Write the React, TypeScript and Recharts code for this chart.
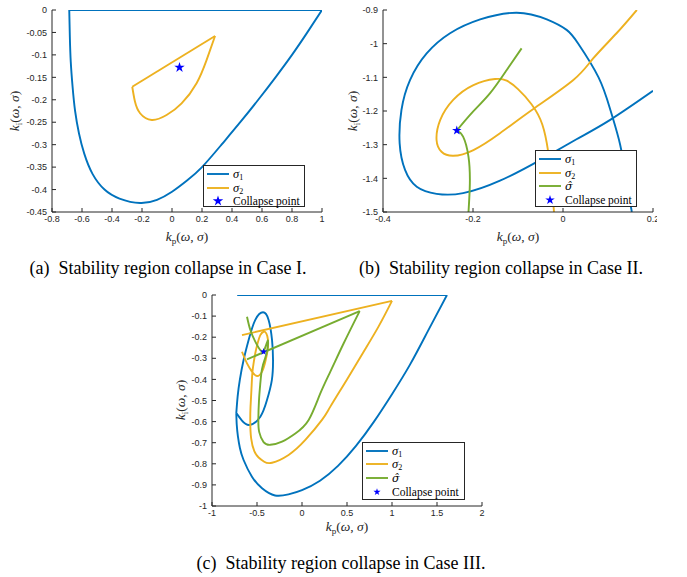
import React from "react";
import { ComposedChart, Line, Scatter, XAxis, YAxis, Symbols } from "recharts";

type Pt = { x: number; y: number };

// ---- Case I ----
const caseIXTicks = [-0.8, -0.6, -0.4, -0.2, 0, 0.2, 0.4, 0.6, 0.8, 1];
const caseIYTicks = [0, -0.05, -0.1, -0.15, -0.2, -0.25, -0.3, -0.35, -0.4, -0.45];
const caseISigma1Top: Pt[] = [
  { x: -0.685, y: 0 },
  { x: 1, y: 0 },
];
const caseISigma1Curve: Pt[] = [
  { x: -0.685, y: 0 }, { x: -0.681, y: -0.06 }, { x: -0.675, y: -0.115 }, { x: -0.663, y: -0.17 },
  { x: -0.646, y: -0.225 }, { x: -0.62, y: -0.275 }, { x: -0.585, y: -0.32 }, { x: -0.53, y: -0.365 },
  { x: -0.45, y: -0.4 }, { x: -0.35, y: -0.42 }, { x: -0.213, y: -0.43 }, { x: -0.1, y: -0.423 },
  { x: 0, y: -0.405 }, { x: 0.1, y: -0.38 }, { x: 0.2, y: -0.35 }, { x: 0.33, y: -0.3 },
  { x: 0.455, y: -0.25 }, { x: 0.575, y: -0.2 }, { x: 0.69, y: -0.15 }, { x: 0.8, y: -0.1 },
  { x: 0.9, y: -0.051 }, { x: 1, y: 0 },
];
const caseISigma2Edge: Pt[] = [
  { x: -0.265, y: -0.171 },
  { x: 0.287, y: -0.058 },
];
const caseISigma2Curve: Pt[] = [
  { x: 0.287, y: -0.058 }, { x: 0.231, y: -0.111 }, { x: 0.164, y: -0.163 }, { x: 0.064, y: -0.208 },
  { x: -0.036, y: -0.234 }, { x: -0.135, y: -0.245 }, { x: -0.213, y: -0.23 }, { x: -0.247, y: -0.204 },
  { x: -0.265, y: -0.171 },
];
const caseICollapse: Pt[] = [{ x: 0.05, y: -0.128 }];

// ---- Case II ----
const caseIIXTicks = [-0.4, -0.2, 0, 0.2];
const caseIIYTicks = [-0.9, -1, -1.1, -1.2, -1.3, -1.4, -1.5];
const caseIISigma1: Pt[] = [
  { x: 0.153, y: -1.5 }, { x: 0.14, y: -1.4 }, { x: 0.127, y: -1.3 }, { x: 0.106, y: -1.2 },
  { x: 0.079, y: -1.1 }, { x: 0.034, y: -1.0 }, { x: 0.008, y: -0.959 }, { x: -0.036, y: -0.928 },
  { x: -0.103, y: -0.908 }, { x: -0.184, y: -0.928 }, { x: -0.251, y: -0.969 }, { x: -0.303, y: -1.029 },
  { x: -0.34, y: -1.108 }, { x: -0.359, y: -1.197 }, { x: -0.363, y: -1.296 }, { x: -0.351, y: -1.375 },
  { x: -0.325, y: -1.425 }, { x: -0.281, y: -1.446 }, { x: -0.222, y: -1.444 }, { x: -0.14, y: -1.407 },
  { x: -0.05, y: -1.345 }, { x: 0.03, y: -1.284 }, { x: 0.104, y: -1.227 }, { x: 0.2, y: -1.14 },
];
const caseIISigma2: Pt[] = [
  { x: -0.02, y: -1.5 }, { x: -0.026, y: -1.4 }, { x: -0.033, y: -1.32 }, { x: -0.046, y: -1.24 },
  { x: -0.07, y: -1.18 }, { x: -0.1, y: -1.135 }, { x: -0.125, y: -1.11 }, { x: -0.151, y: -1.105 },
  { x: -0.199, y: -1.123 }, { x: -0.244, y: -1.167 }, { x: -0.273, y: -1.227 }, { x: -0.281, y: -1.286 },
  { x: -0.27, y: -1.321 }, { x: -0.244, y: -1.333 }, { x: -0.199, y: -1.316 }, { x: -0.14, y: -1.266 },
  { x: -0.066, y: -1.194 }, { x: 0.023, y: -1.108 }, { x: 0.067, y: -1.044 }, { x: 0.119, y: -0.969 },
  { x: 0.164, y: -0.9 },
];
const caseIIHatUpper: Pt[] = [
  { x: -0.092, y: -1.014 }, { x: -0.125, y: -1.078 }, { x: -0.162, y: -1.147 }, { x: -0.2, y: -1.202 },
  { x: -0.236, y: -1.258 },
];
const caseIIHatLower: Pt[] = [
  { x: -0.236, y: -1.258 }, { x: -0.222, y: -1.276 }, { x: -0.21, y: -1.336 }, { x: -0.207, y: -1.415 },
  { x: -0.21, y: -1.5 },
];
const caseIICollapse: Pt[] = [{ x: -0.236, y: -1.258 }];

// ---- Case III ----
const caseIIIXTicks = [-1, -0.5, 0, 0.5, 1, 1.5, 2];
const caseIIIYTicks = [0, -0.1, -0.2, -0.3, -0.4, -0.5, -0.6, -0.7, -0.8, -0.9, -1];
const caseIIISigma1Top: Pt[] = [
  { x: -0.72, y: 0 },
  { x: 1.611, y: 0 },
];
const caseIIISigma1Outer: Pt[] = [
  { x: 1.611, y: 0 }, { x: 1.4, y: -0.17 }, { x: 1.2, y: -0.33 }, { x: 1.0, y: -0.47 },
  { x: 0.8, y: -0.6 }, { x: 0.6, y: -0.715 }, { x: 0.4, y: -0.81 }, { x: 0.2, y: -0.88 },
  { x: 0, y: -0.925 }, { x: -0.15, y: -0.945 }, { x: -0.3, y: -0.95 }, { x: -0.444, y: -0.916 },
  { x: -0.556, y: -0.861 }, { x: -0.649, y: -0.782 }, { x: -0.69, y: -0.725 }, { x: -0.712, y: -0.67 },
  { x: -0.725, y: -0.615 }, { x: -0.73, y: -0.56 },
];
const caseIIISigma1Loop: Pt[] = [
  { x: -0.73, y: -0.56 }, { x: -0.715, y: -0.48 }, { x: -0.69, y: -0.4 }, { x: -0.649, y: -0.308 },
  { x: -0.593, y: -0.213 }, { x: -0.519, y: -0.118 }, { x: -0.433, y: -0.082 }, { x: -0.371, y: -0.118 },
  { x: -0.333, y: -0.213 }, { x: -0.322, y: -0.308 }, { x: -0.335, y: -0.403 }, { x: -0.389, y: -0.498 },
  { x: -0.463, y: -0.577 }, { x: -0.582, y: -0.616 }, { x: -0.667, y: -0.595 }, { x: -0.73, y: -0.56 },
];
const caseIIISigma2Curve: Pt[] = [
  { x: -0.667, y: -0.269 }, { x: -0.611, y: -0.324 }, { x: -0.556, y: -0.363 }, { x: -0.5, y: -0.384 },
  { x: -0.444, y: -0.363 }, { x: -0.408, y: -0.316 }, { x: -0.382, y: -0.261 }, { x: -0.378, y: -0.213 },
  { x: -0.397, y: -0.182 }, { x: -0.427, y: -0.174 }, { x: -0.463, y: -0.19 }, { x: -0.493, y: -0.229 },
  { x: -0.519, y: -0.276 }, { x: -0.538, y: -0.324 }, { x: -0.552, y: -0.371 }, { x: -0.562, y: -0.45 },
  { x: -0.572, y: -0.53 }, { x: -0.575, y: -0.6 }, { x: -0.565, y: -0.68 }, { x: -0.53, y: -0.74 },
  { x: -0.482, y: -0.77 }, { x: -0.42, y: -0.79 }, { x: -0.333, y: -0.795 }, { x: -0.149, y: -0.758 },
  { x: 0.037, y: -0.687 }, { x: 0.222, y: -0.592 }, { x: 0.315, y: -0.529 }, { x: 0.5, y: -0.4 },
  { x: 0.685, y: -0.269 }, { x: 0.85, y: -0.15 }, { x: 1.0, y: -0.028 },
];
const caseIIISigma2Edge: Pt[] = [
  { x: 1.0, y: -0.028 },
  { x: -0.667, y: -0.19 },
];
const caseIIIHatArc: Pt[] = [
  { x: -0.611, y: -0.103 }, { x: -0.574, y: -0.166 }, { x: -0.519, y: -0.221 }, { x: -0.463, y: -0.261 },
  { x: -0.427, y: -0.269 },
];
const caseIIIHatCurve: Pt[] = [
  { x: -0.427, y: -0.269 }, { x: -0.397, y: -0.235 }, { x: -0.378, y: -0.217 }, { x: -0.385, y: -0.26 },
  { x: -0.41, y: -0.3 }, { x: -0.444, y: -0.35 }, { x: -0.463, y: -0.418 }, { x: -0.478, y: -0.5 },
  { x: -0.485, y: -0.59 }, { x: -0.475, y: -0.65 }, { x: -0.427, y: -0.697 }, { x: -0.352, y: -0.71 },
  { x: -0.222, y: -0.695 }, { x: -0.074, y: -0.656 }, { x: 0.074, y: -0.592 }, { x: 0.2, y: -0.47 },
  { x: 0.315, y: -0.363 }, { x: 0.462, y: -0.23 }, { x: 0.641, y: -0.076 },
];
const caseIIIHatEdge: Pt[] = [
  { x: 0.641, y: -0.076 },
  { x: -0.611, y: -0.305 },
];
const caseIIICollapse: Pt[] = [{ x: -0.427, y: -0.269 }];

const BLUE = "#0072BD";
const ORANGE = "#EDB120";
const GREEN = "#77AC30";
const STAR = "#0000FF";
const AXIS = "#262626";

type Seg = { data: Pt[]; color: string; curve: "natural" | "linear" };

interface PanelProps {
  left: number;
  top: number;
  width: number;
  height: number;
  margin: { top: number; right: number; bottom: number; left: number };
  xDomain: [number, number];
  yDomain: [number, number];
  xTicks: number[];
  yTicks: number[];
  segs: Seg[];
  star: Pt[];
  starSize: number;
}

const tickStyle = { fill: AXIS, fontSize: 9, fontFamily: "Liberation Sans, Arial, sans-serif" };

function Panel(p: PanelProps) {
  return (
    <div style={{ position: "absolute", left: p.left, top: p.top }}>
      <ComposedChart width={p.width} height={p.height} margin={p.margin}>
        <XAxis
          type="number"
          dataKey="x"
          domain={p.xDomain}
          ticks={p.xTicks}
          interval={0}
          allowDataOverflow
          stroke={AXIS}
          tick={tickStyle}
          tickSize={-4}
          tickMargin={8}
          height={20}
        />
        <XAxis
          xAxisId="t"
          orientation="top"
          type="number"
          dataKey="x"
          domain={p.xDomain}
          ticks={p.xTicks}
          interval={0}
          allowDataOverflow
          stroke={AXIS}
          tick={false}
          tickSize={-4}
          height={0}
        />
        <YAxis
          type="number"
          dataKey="y"
          domain={p.yDomain}
          ticks={p.yTicks}
          interval={0}
          allowDataOverflow
          stroke={AXIS}
          tick={tickStyle}
          tickSize={-4}
          tickMargin={9}
          width={40}
        />
        <YAxis
          yAxisId="r"
          orientation="right"
          type="number"
          dataKey="y"
          domain={p.yDomain}
          ticks={p.yTicks}
          interval={0}
          allowDataOverflow
          stroke={AXIS}
          tick={false}
          tickSize={-4}
          width={0}
        />
        {p.segs.map((s, i) => (
          <Line
            key={i}
            data={s.data}
            dataKey="y"
            type={s.curve}
            stroke={s.color}
            strokeWidth={1.9}
            dot={false}
            activeDot={false}
            legendType="none"
            isAnimationActive={false}
          />
        ))}
        <Scatter
          data={p.star}
          dataKey="y"
          fill={STAR}
          isAnimationActive={false}
          shape={(sp: any) => <Symbols cx={sp.cx} cy={sp.cy} type="star" size={p.starSize} fill={STAR} />}
        />
      </ComposedChart>
    </div>
  );
}

const serif = "Liberation Serif, Times New Roman, serif";

function Sigma({ sub, hat }: { sub?: string; hat?: boolean }) {
  if (hat) {
    return <i style={{ fontFamily: "DejaVu Serif", fontSize: 11, lineHeight: 1 }}>σ̂</i>;
  }
  return (
    <span style={{ fontSize: 12.5, lineHeight: 1 }}>
      <i>σ</i>
      <span style={{ fontSize: 8, position: "relative", top: 2 }}>{sub}</span>
    </span>
  );
}

function AxisTitle({ sub, x, y, rotate }: { sub: string; x: number; y: number; rotate?: boolean }) {
  return (
    <div
      style={{
        position: "absolute",
        left: x,
        top: y,
        transform: `translate(-50%, -50%)${rotate ? " rotate(-90deg)" : ""}`,
        fontFamily: serif,
        fontSize: 13.5,
        color: AXIS,
        whiteSpace: "nowrap",
        lineHeight: 1,
      }}
    >
      <i>k</i>
      <span style={{ fontSize: 9, position: "relative", top: 3 }}>{sub}</span>(<i>ω</i>, <i>σ</i>)
    </div>
  );
}

type LegendItem = { kind: "line" | "star"; color: string; label: React.ReactNode; starSize: number };

function LegendBox({ left, top, width, height, rows, items }: {
  left: number; top: number; width: number; height: number; rows: number[]; items: LegendItem[];
}) {
  return (
    <div
      style={{
        position: "absolute",
        left,
        top,
        width,
        height,
        boxSizing: "border-box",
        border: `1px solid ${AXIS}`,
        background: "#fff",
        fontFamily: serif,
        fontSize: 11.5,
        color: "#000",
      }}
    >
      {items.map((it, i) => (
        <div
          key={i}
          style={{ position: "absolute", left: 2, top: rows[i] - 6, height: 12, lineHeight: "12px", display: "flex", alignItems: "center" }}
        >
          <svg width={24} height={12}>
            {it.kind === "line" ? (
              <line x1={1} x2={23} y1={6} y2={6} stroke={it.color} strokeWidth={1.9} />
            ) : (
              <Symbols cx={12} cy={6} type="star" size={it.starSize} fill={it.color} />
            )}
          </svg>
          <span style={{ marginLeft: 3, whiteSpace: "nowrap", lineHeight: "12px" }}>{it.label}</span>
        </div>
      ))}
    </div>
  );
}

function Caption({ text, x, y }: { text: string; x: number; y: number }) {
  return (
    <div
      style={{
        position: "absolute",
        left: x,
        top: y,
        transform: "translate(-50%, -50%)",
        fontFamily: serif,
        fontSize: 18,
        whiteSpace: "pre",
        color: "#000",
      }}
    >
      {text}
    </div>
  );
}

export default function App() {
  return (
    <div style={{ position: "absolute", left: 0, top: 0, width: 687, height: 577, background: "#fff", overflow: "hidden" }}>
      <Panel
        left={0}
        top={0}
        width={340}
        height={232}
        margin={{ top: 10, right: 18, bottom: 0, left: 12 }}
        xDomain={[-0.8, 1]}
        yDomain={[-0.45, 0]}
        xTicks={caseIXTicks}
        yTicks={caseIYTicks}
        segs={[
          { data: caseISigma1Top, color: BLUE, curve: "linear" },
          { data: caseISigma1Curve, color: BLUE, curve: "natural" },
          { data: caseISigma2Edge, color: ORANGE, curve: "linear" },
          { data: caseISigma2Curve, color: ORANGE, curve: "natural" },
        ]}
        star={caseICollapse}
        starSize={34}
      />
      <Panel
        left={343}
        top={0}
        width={314}
        height={232}
        margin={{ top: 10, right: 4, bottom: 0, left: 0 }}
        xDomain={[-0.4, 0.2]}
        yDomain={[-1.5, -0.9]}
        xTicks={caseIIXTicks}
        yTicks={caseIIYTicks}
        segs={[
          { data: caseIISigma1, color: BLUE, curve: "natural" },
          { data: caseIISigma2, color: ORANGE, curve: "natural" },
          { data: caseIIHatUpper, color: GREEN, curve: "natural" },
          { data: caseIIHatLower, color: GREEN, curve: "natural" },
        ]}
        star={caseIICollapse}
        starSize={28}
      />
      <Panel
        left={160}
        top={285}
        width={340}
        height={241}
        margin={{ top: 10, right: 18, bottom: 0, left: 12 }}
        xDomain={[-1, 2]}
        yDomain={[-1, 0]}
        xTicks={caseIIIXTicks}
        yTicks={caseIIIYTicks}
        segs={[
          { data: caseIIISigma1Top, color: BLUE, curve: "linear" },
          { data: caseIIISigma1Outer, color: BLUE, curve: "natural" },
          { data: caseIIISigma1Loop, color: BLUE, curve: "natural" },
          { data: caseIIISigma2Curve, color: ORANGE, curve: "natural" },
          { data: caseIIISigma2Edge, color: ORANGE, curve: "linear" },
          { data: caseIIIHatArc, color: GREEN, curve: "natural" },
          { data: caseIIIHatCurve, color: GREEN, curve: "natural" },
          { data: caseIIIHatEdge, color: GREEN, curve: "linear" },
        ]}
        star={caseIIICollapse}
        starSize={16}
      />

      <LegendBox
        left={203}
        top={165}
        width={102}
        height={42}
        rows={[8, 22, 35]}
        items={[
          { kind: "line", color: BLUE, label: <Sigma sub="1" />, starSize: 0 },
          { kind: "line", color: ORANGE, label: <Sigma sub="2" />, starSize: 0 },
          { kind: "star", color: STAR, label: "Collapse point", starSize: 34 },
        ]}
      />
      <LegendBox
        left={535}
        top={150}
        width={102}
        height={57}
        rows={[8, 22, 35, 49]}
        items={[
          { kind: "line", color: BLUE, label: <Sigma sub="1" />, starSize: 0 },
          { kind: "line", color: ORANGE, label: <Sigma sub="2" />, starSize: 0 },
          { kind: "line", color: GREEN, label: <Sigma hat />, starSize: 0 },
          { kind: "star", color: STAR, label: "Collapse point", starSize: 28 },
        ]}
      />
      <LegendBox
        left={362}
        top={442}
        width={103}
        height={58}
        rows={[8, 21, 35, 49]}
        items={[
          { kind: "line", color: BLUE, label: <Sigma sub="1" />, starSize: 0 },
          { kind: "line", color: ORANGE, label: <Sigma sub="2" />, starSize: 0 },
          { kind: "line", color: GREEN, label: <Sigma hat />, starSize: 0 },
          { kind: "star", color: STAR, label: "Collapse point", starSize: 16 },
        ]}
      />

      <AxisTitle sub="i" x={15} y={111} rotate />
      <AxisTitle sub="p" x={187} y={237} />
      <AxisTitle sub="i" x={353} y={111} rotate />
      <AxisTitle sub="p" x={518} y={237} />
      <AxisTitle sub="i" x={181} y={400} rotate />
      <AxisTitle sub="p" x={347} y={527} />

      <Caption text="(a)  Stability region collapse in Case I." x={168} y={268} />
      <Caption text="(b)  Stability region collapse in Case II." x={501} y={268} />
      <Caption text="(c)  Stability region collapse in Case III." x={341} y={563} />
    </div>
  );
}
